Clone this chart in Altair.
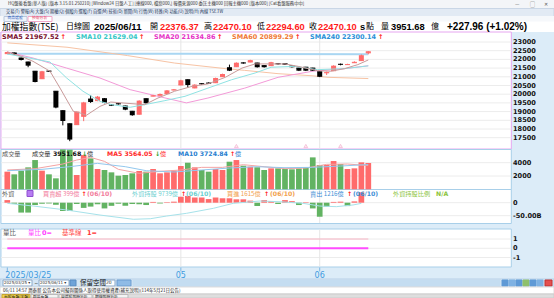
import altair as alt
import pandas as pd
import numpy as np

# ---------------- data ----------------
DATE = "2025/06/11"
MONTH_IDX = [0, 25, 45]
MONTH_LABELS = ["2025/03/25", "05", "06"]

OPEN  = [22330, 22370, 22080, 21850, 21320, 20890, 21330, 20170, 19050, 18300,
         18250, 18730, 19720, 19630, 19740, 19380, 19450, 19320, 19020, 18850,
         19740, 19890, 19940, 20030, 20240, 20530, 20830, 20360, 20600, 20640,
         20660, 21010, 21520, 21580, 21800, 21850, 21790, 21640, 21640, 21750,
         21750, 21620, 21500, 21550, 21500, 21290, 21230, 21350, 21720, 21700,
         21810, 21930, 22376.37]
HIGH  = [22440, 22400, 22100, 21870, 21330, 21340, 21360, 20180, 19080, 18320,
         19000, 19560, 19950, 19900, 19780, 19420, 19490, 19340, 19040, 19650,
         19760, 19960, 20040, 20240, 20300, 20830, 20850, 20570, 20640, 20680,
         20950, 21180, 21700, 21830, 21840, 21980, 21810, 21660, 21860, 21790,
         21770, 21640, 21520, 21570, 21520, 21310, 21300, 21660, 21760, 21750,
         21890, 22280, 22470.10]
LOW   = [22310, 22270, 21940, 21550, 20680, 20870, 21280, 19190, 18210, 17300,
         18230, 18450, 19500, 19600, 19480, 19320, 19400, 19080, 18760, 18830,
         19450, 19870, 19920, 20010, 20220, 20510, 20370, 20340, 20550, 20590,
         20640, 20990, 21330, 21560, 21750, 21830, 21530, 21530, 21620, 21700,
         21680, 21530, 21330, 21330, 21330, 20980, 21100, 21330, 21660, 21680,
         21790, 21910, 22294.60]
CLOSE = [22420, 22300, 21970, 21640, 20700, 21320, 21310, 19232, 18460, 17392,
         19000, 19529, 19550, 19860, 19510, 19350, 19430, 19110, 18790, 19630,
         19480, 19930, 20010, 20220, 20270, 20800, 20530, 20550, 20580, 20620,
         20930, 21160, 21350, 21810, 21780, 21960, 21550, 21550, 21840, 21730,
         21700, 21550, 21350, 21350, 21350, 21000, 21270, 21640, 21700, 21720,
         21860, 22242.14, 22470.10]

SMA5_X = [0, 2, 3.7, 6.15, 7.6, 9.5, 10.5, 11.4, 13.35, 14.9, 16.8, 19.8, 21.7, 24.1,
          26.6, 28.9, 31.4, 33.8, 35.7, 37.1, 40, 41.9, 44.7, 46.6, 48.6, 50.5, 52]
SMA5_V = [22430, 22180, 21890, 21320, 20350, 19020, 18920, 18790, 19300, 19550, 19490,
          19400, 19780, 20170, 20450, 20590, 20970, 21500, 21740, 21740, 21740, 21600,
          21350, 21320, 21470, 21700, 21967.52]
SMA10_X = [0, 3.7, 6.15, 8.55, 10.9, 13.35, 15, 17.7, 19.8, 22.7, 25.6, 28.9, 32.3,
           35.7, 38, 41.4, 44.7, 48.6, 52]
SMA10_V = [22310, 22040, 21850, 20930, 20170, 19590, 19400, 19250, 19400, 19630, 19880,
           20350, 20830, 21220, 21550, 21600, 21410, 21470, 21629.04]
SMA20_X = [0, 3.7, 8.55, 13.35, 17.7, 21.7, 25.8, 28.9, 34.2, 39, 44, 48.6, 52]
SMA20_V = [22430, 22080, 21500, 20930, 20260, 19880, 19500, 19780, 20350, 20970, 21320,
           21470, 21634.86]
SMA60_X = [0, 8.6, 17.3, 24.1, 31.4, 34.2, 39, 43.9, 46.2, 52]
SMA60_V = [22950, 22700, 22220, 21790, 21470, 21370, 21180, 21060, 20970, 20899.29]
SMA240_X = [0, 26, 52]
SMA240_V = [22330, 22320, 22300.14]

VOLUME = [2650, 2250, 2800, 3300, 4400, 2800, 2250, 1650, 6000, 5950,
          2150, 5150, 4650, 3050, 2900, 2550, 2050, 2150, 2400, 2750,
          2650, 3050, 2400, 2550, 2800, 3500, 4000, 3300, 2900, 2650,
          3050, 2900, 4150, 4400, 3550, 3400, 3300, 2900, 3150, 3150,
          3050, 3000, 3150, 3300, 4800, 3650, 3650, 4250, 3800, 3050,
          3150, 4050, 3951.68]
VMA5_X = [0, 4, 8, 10, 12, 14, 16, 19, 22, 25, 28, 31, 34, 37, 40, 43, 46, 49, 52]
VMA5_V = [2900, 3100, 3800, 4400, 4800, 4200, 3000, 2400, 2700, 2900, 3300, 3300, 3700,
          3400, 3100, 3200, 3750, 3800, 3564.05]
VMA10_X = [0, 5, 9, 13, 17, 20, 24, 28, 32, 36, 40, 44, 48, 52]
VMA10_V = [2800, 3000, 3400, 3900, 3400, 2800, 2600, 2900, 3200, 3400, 3250, 3300, 3500,
           3724.84]

FOREIGN_NET = [10, -4, -38, -38, -9, -4, -3, -8, -32, -32,
               -5, -20, -15, -6, -22, -12, -4, -12, -5, -6,
               -9, 3, -3, 2, 4, 23, 26, 20, 20, 14,
               20, 17, 17, 13, 13, 8, -13, 10, 6, -5,
               10, 6, -9, 2, -22, -54, -15, 3, 4, -13,
               5, 39.9]
HOLD_X = [0, 3.75, 8.55, 13.35, 18.15, 20.6, 22.95, 25.8, 29.7, 32.55, 36.4, 39.3,
          42.6, 45, 47.4, 49.8, 51]
HOLD_V = [9740, 9440, 9000, 8440, 7970, 8030, 8330, 8630, 9190, 9740, 10000, 9920,
          9740, 9440, 9370, 9560, 9739]
FOREIGN_BUY = 1615
FOREIGN_SELL = 1216
FOREIGN_DATE = "06/10"

RATIO_X = [0, 52]
RATIO_V = [0, 0]
BASE_V = [1, 1]

EVENT_IDX = [33, 43, 48]

PRICE_TICKS = [17500, 18000, 18500, 19000, 19500, 20000, 20500, 21000, 21500, 22000, 22500, 23000]
VOL_TICKS = [2000, 4000]
FOR_TICKS = [0, -50]
FOR_LABELS = ["0", "-50.00B"]
RATIO_TICKS = [1, 0, -1]

# ---------------- layout / style ----------------
RED = "#ff6b6b"
BRIGHT_RED = "#ff1a1a"
GREEN = "#62b362"
CJK = "Noto Sans CJK TC"
SANS = "DejaVu Sans"
N = len(CLOSE)

XS = alt.Scale(domain=[0, N - 1], range=[7.3, 368.3], nice=False, zero=False)
X_L, X_R = -0.91, 72.6


def ys(dom, rng):
    return alt.Scale(domain=dom, range=rng, nice=False, zero=False)


def inv(dom, rng, px):
    return dom[0] + (px - rng[0]) * (dom[1] - dom[0]) / (rng[1] - rng[0])


P = ([17000, 23000], [146.4, 42.0])
V = ([0, 4000], [189.3, 162.7])
F = ([-50, 0], [215.7, 202.7])
HS = ([8000, 10000], [219.0, 201.0])
R = ([-1, 1], [257.5, 239.0])

layers = []


def px_rects(rows):
    df = pd.DataFrame(rows, columns=["x", "x2", "y", "y2", "f", "s"])
    return alt.Chart(df).mark_rect(strokeWidth=1).encode(
        x=alt.X("x:Q", scale=None), x2="x2:Q",
        y=alt.Y("y:Q", scale=None), y2="y2:Q",
        fill=alt.Fill("f:N", scale=None), stroke=alt.Stroke("s:N", scale=None))


def px_texts(rows, font, weight="normal"):
    df = pd.DataFrame(rows, columns=["x", "y", "t", "c", "s"])
    return alt.Chart(df).mark_text(font=font, fontWeight=weight, align="left",
                                   baseline="middle").encode(
        x=alt.X("x:Q", scale=None), y=alt.Y("y:Q", scale=None), text="t:N",
        color=alt.Color("c:N", scale=None), size=alt.Size("s:Q", scale=None))


def frame(sc, top_px, bot_px, stroke):
    dom, rng = sc
    df = pd.DataFrame({"x": [X_L], "x2": [X_R], "y": [inv(dom, rng, top_px)],
                       "y2": [inv(dom, rng, bot_px)]})
    return alt.Chart(df).mark_rect(fill="white", stroke=stroke, strokeWidth=1).encode(
        x=alt.X("x:Q", scale=XS, axis=None), x2="x2:Q",
        y=alt.Y("y:Q", scale=ys(*sc), axis=None), y2="y2:Q")


def hgrid(sc, ticks, color="#ececec"):
    df = pd.DataFrame({"v": ticks, "x": X_L, "x2": X_R})
    return alt.Chart(df).mark_rule(color=color, strokeWidth=1).encode(
        x=alt.X("x:Q", scale=XS, axis=None), x2="x2:Q",
        y=alt.Y("v:Q", scale=ys(*sc), axis=None))


def vgrid(sc, top_px, bot_px):
    dom, rng = sc
    df = pd.DataFrame({"i": MONTH_IDX[1:], "a": inv(dom, rng, top_px), "b": inv(dom, rng, bot_px)})
    return alt.Chart(df).mark_rule(color="#e6e6e6", strokeWidth=1).encode(
        x=alt.X("i:Q", scale=XS, axis=None),
        y=alt.Y("a:Q", scale=ys(*sc), axis=None), y2="b:Q")


def line(xs, vs, sc, color, width=1.0):
    df = pd.DataFrame({"x": xs, "v": vs})
    return alt.Chart(df).mark_line(color=color, strokeWidth=width).encode(
        x=alt.X("x:Q", scale=XS, axis=None), y=alt.Y("v:Q", scale=ys(*sc), axis=None))


def axis_labels(sc, ticks, labels):
    df = pd.DataFrame({"v": ticks, "t": labels})
    return alt.Chart(df).mark_text(font=SANS, fontWeight="bold", fontSize=6.6, align="left",
                                   baseline="middle", color="#111111").encode(
        x=alt.value(513), y=alt.Y("v:Q", scale=ys(*sc), axis=None), text="t:N")


# ---------------- window chrome ----------------
layers.append(px_rects([
    (0, 554, 0, 8.5, "#f3f5f8", "#f3f5f8"),
    (0, 554, 8.5, 16.5, "#e2eaf4", "#c9d6e6"),
    (0, 554, 16.5, 22, "#f6f8fb", "#f6f8fb"),
    (0, 554, 22, 31.5, "#ffffff", "#ffffff"),
    (4, 27, 16.5, 21.5, "#eef3fa", "#b8c8dc"),
    (28, 52, 16.5, 21.5, "#ffffff", "#f0a8c8"),
    (0, 554, 279, 287, "#d4e6f5", "#b8d0e8"),
    (3, 32, 280, 286, "#ffffff", "#8aa8c8"),
    (39, 69, 280, 286, "#ffffff", "#8aa8c8"),
    (70, 76, 280, 286, "#6fa3d8", "#5a8cc0"),
    (104, 115, 280, 286, "#ffffff", "#8aa8c8"),
    (117, 131, 280, 286, "#8fbbe6", "#6a9cd0"),
    (133, 500, 280.5, 285.5, "#c4ddf1", "#c4ddf1"),
    (502, 508, 280, 286, "#5f9ad6", "#5f9ad6"),
    (509, 515, 280, 286, "#7fb2e3", "#7fb2e3"),
    (516, 522, 280, 286, "#5f9ad6", "#5f9ad6"),
    (523, 529, 280, 286, "#8ec06c", "#8ec06c"),
    (530, 536, 280, 286, "#5f9ad6", "#5f9ad6"),
    (537, 543, 280, 286, "#7fb2e3", "#7fb2e3"),
    (545, 552, 280, 286, "#e45050", "#c03030"),
    (0, 554, 287, 294, "#ffffff", "#dddddd"),
    (0, 554, 294, 298, "#dedede", "#cccccc"),
    (2, 30, 294.5, 298, "#f2d24a", "#c8a830"),
    (31, 58, 294.5, 298, "#f4f4f4", "#bbbbbb"),
    (59, 92, 294.5, 298, "#f4f4f4", "#bbbbbb"),
    (93, 128, 294.5, 298, "#f4f4f4", "#bbbbbb"),
]))
layers.append(px_texts([
    (8, 4, "HQ盤後看盤(華人版) [版本 3.15.01.250210] [Window24 日盤人工] [連線000, 檔案000,] 報價來源000 委託主機000 回報主機000 [版本000]  [Cat看盤服務中中]", "#333333", 4.3),
    (515, 4, "—", "#555555", 5),
    (530, 4, "▢", "#555555", 5),
    (544, 4, "✕", "#555555", 5),
    (6, 12, "交易(T)   警報(A)   大盤(S)   期權(Q)   個股(I)   選股(F)   自選(M)   技術(D)   新聞(N)   行情(W)   特殊(R)   功能(U)   說明(H)   內線   TSE.TW", "#223355", 4.2),
    (7.5, 18.0, "商品選股", "#2a5cc0", 3.8),
    (32, 18.0, "技術分析", "#e03a5a", 3.8),
    (80, 283, "保留空間", "#111111", 6.5),
    (3, 291, "06/11 14:57      潤泰新 公告本公司擬與關係人取得使用權資產(補充說明)(114年5月21日公告)", "#222222", 4.5),
    (4, 296.5, "台股看盤(全盤)", "#222222", 3.8),
    (33, 296.5, "群益看盤", "#222222", 3.8),
    (61, 296.5, "自選股即時分析", "#222222", 3.8),
    (95, 296.5, "期權即時分析", "#222222", 3.8),
], CJK))
layers.append(px_texts([
    (4, 283, "2025/03/25 ▾", "#333333", 4),
    (34, 283, "~", "#333333", 5),
    (40, 283, "2025/06/11 ▾", "#333333", 4),
    (106, 283, "20", "#333333", 4.5),
], SANS))

# ---------------- panel frames & grids ----------------
layers += [
    frame(P, 32, 149, "#e6a6f0"),
    frame(V, 149.5, 189.5, "#a8cfe9"),
    frame(F, 189.5, 223.5, "#a8cfe9"),
    frame(R, 229, 267, "#a8cfe9"),
    hgrid(P, PRICE_TICKS), hgrid(V, VOL_TICKS), hgrid(F, FOR_TICKS), hgrid(R, RATIO_TICKS),
    vgrid(P, 32.5, 148.5), vgrid(V, 150, 189), vgrid(F, 190, 223), vgrid(R, 229.5, 266.5),
]

# ---------------- price candles ----------------
cdf = pd.DataFrame({"i": range(N), "o": OPEN, "h": HIGH, "l": LOW, "c": CLOSE})
cdf["col"] = np.where(cdf["c"] >= cdf["o"], RED, "#000000")
cdf["il"] = cdf["i"] - 0.36
cdf["ir"] = cdf["i"] + 0.36
cb = alt.Chart(cdf)
layers += [
    line(SMA240_X, SMA240_V, P, "#a9d6f2", 2),
    line(SMA60_X, SMA60_V, P, "#f7c3a4", 1),
    line(SMA20_X, SMA20_V, P, "#f39ad8", 1),
    cb.mark_rule(strokeWidth=1).encode(
        x=alt.X("i:Q", scale=XS, axis=None), y=alt.Y("l:Q", scale=ys(*P), axis=None),
        y2="h:Q", color=alt.Color("col:N", scale=None)),
    cb.mark_rect().encode(
        x=alt.X("il:Q", scale=XS, axis=None), x2="ir:Q",
        y=alt.Y("o:Q", scale=ys(*P), axis=None), y2="c:Q", color=alt.Color("col:N", scale=None)),
    cb.mark_rule(strokeWidth=1).encode(
        x=alt.X("il:Q", scale=XS, axis=None), x2="ir:Q",
        y=alt.Y("o:Q", scale=ys(*P), axis=None), color=alt.Color("col:N", scale=None)),
    line(SMA10_X, SMA10_V, P, "#8fe3e3", 1),
    line(SMA5_X, SMA5_V, P, "#c99a9a", 1),
]
edf = pd.DataFrame({"i": EVENT_IDX, "v": inv(P[0], P[1], 146)})
layers.append(alt.Chart(edf).mark_point(shape="triangle-up", size=14, filled=True,
                                        fill="#fde6f0", stroke="#f09ac0", strokeWidth=0.8).encode(
    x=alt.X("i:Q", scale=XS, axis=None), y=alt.Y("v:Q", scale=ys(*P), axis=None)))

# ---------------- volume ----------------
vdf = pd.DataFrame({"i": range(N), "v": VOLUME, "z": 0})
vdf["col"] = np.where(cdf["c"] >= cdf["o"], RED, GREEN)
vdf["il"] = vdf["i"] - 0.41
vdf["ir"] = vdf["i"] + 0.41
layers += [
    alt.Chart(vdf).mark_rect().encode(
        x=alt.X("il:Q", scale=XS, axis=None), x2="ir:Q",
        y=alt.Y("z:Q", scale=ys(*V), axis=None), y2="v:Q", color=alt.Color("col:N", scale=None)),
    line(VMA5_X, VMA5_V, V, "#f4a3a3", 1),
    line(VMA10_X, VMA10_V, V, "#93c8ee", 1),
]

# ---------------- foreign investors ----------------
fdf = pd.DataFrame({"i": range(len(FOREIGN_NET)), "f": FOREIGN_NET, "z": 0})
fdf["col"] = np.where(fdf["f"] >= 0, RED, GREEN)
fdf["il"] = fdf["i"] - 0.41
fdf["ir"] = fdf["i"] + 0.41
layers += [
    alt.Chart(fdf).mark_rect().encode(
        x=alt.X("il:Q", scale=XS, axis=None), x2="ir:Q",
        y=alt.Y("z:Q", scale=ys(*F), axis=None), y2="f:Q", color=alt.Color("col:N", scale=None)),
    line(HOLD_X, HOLD_V, HS, "#a6e2ea", 1),
]

# ---------------- ratio ----------------
layers += [
    line(RATIO_X, BASE_V, R, "#f8b4c4", 1),
    line(RATIO_X, RATIO_V, R, "#ff4cff", 2),
]

# ---------------- axis labels ----------------
layers += [
    axis_labels(P, PRICE_TICKS, [str(t) for t in PRICE_TICKS]),
    axis_labels(V, VOL_TICKS, [str(t) for t in VOL_TICKS]),
    axis_labels(F, FOR_TICKS, FOR_LABELS),
    axis_labels(R, RATIO_TICKS, [str(t) for t in RATIO_TICKS]),
]
mdf = pd.DataFrame({"i": MONTH_IDX, "t": MONTH_LABELS})
layers += [
    alt.Chart(mdf).mark_rule(color="#7db6e3", strokeWidth=1).encode(
        x=alt.X("i:Q", scale=XS, axis=None), y=alt.value(267.5), y2=alt.value(271.5)),
    alt.Chart(mdf.iloc[:1]).mark_text(font=SANS, fontSize=8, align="left", baseline="middle",
                                      color="#3d9be0", dx=-2).encode(
        x=alt.X("i:Q", scale=XS, axis=None), y=alt.value(275.5), text="t:N"),
    alt.Chart(mdf.iloc[1:]).mark_text(font=SANS, fontSize=8, align="center", baseline="middle",
                                      color="#3d9be0").encode(
        x=alt.X("i:Q", scale=XS, axis=None), y=alt.value(275.5), text="t:N"),
]

# ---------------- header & legends ----------------
chg = CLOSE[-1] - CLOSE[-2]
pct = chg / CLOSE[-2] * 100
HY = 27.0
layers.append(px_texts([
    (2, HY, "加權指數(TSE)", "#000000", 8.8),
    (66, HY, "日線圖", "#000000", 8),
    (150, HY, "開", "#000000", 8),
    (204, HY, "高", "#000000", 8),
    (257, HY, "低", "#000000", 8),
    (309, HY, "收", "#000000", 8),
    (366, HY, "點", "#000000", 8),
    (381, HY, "量", "#000000", 8),
    (431, HY, "億", "#000000", 8),
], CJK))
layers.append(px_texts([
    (94, HY, DATE, "#000000", 9.6),
    (160, HY, f"{OPEN[-1]:.2f}", BRIGHT_RED, 9.3),
    (213, HY, f"{HIGH[-1]:.2f}", BRIGHT_RED, 9.3),
    (266, HY, f"{LOW[-1]:.2f}", BRIGHT_RED, 9.3),
    (318, HY, f"{CLOSE[-1]:.2f}", BRIGHT_RED, 9.3),
    (360, HY, "s", "#000000", 9.3),
    (391, HY, f"{VOLUME[-1]:.2f}", "#000000", 9.3),
    (447, HY, f"{chg:+.2f} ({pct:+.2f}%)", "#000000", 10),
], "Liberation Sans", "bold"))

LY = 36.8
layers.append(px_texts([
    (2, LY, f"SMA5 {SMA5_V[-1]:.2f}", "#7a1030", 6.5),
    (60.5, LY, "↑", BRIGHT_RED, 6.5),
    (76, LY, f"SMA10 {SMA10_V[-1]:.2f}", "#36c6c6", 6.5),
    (139, LY, "↑", BRIGHT_RED, 6.5),
    (154, LY, f"SMA20 {SMA20_V[-1]:.2f}", "#e632c6", 6.5),
    (217, LY, "↑", BRIGHT_RED, 6.5),
    (232, LY, f"SMA60 {SMA60_V[-1]:.2f}", "#f07a36", 6.5),
    (295, LY, "↑", BRIGHT_RED, 6.5),
    (310, LY, f"SMA240 {SMA240_V[-1]:.2f}", "#2a90d8", 6.5),
    (378, LY, "↑", BRIGHT_RED, 6.5),
    (53, 154, f"{VOLUME[-1]:.2f}", "#111111", 6.2),
    (82, 154, "↓", "#1c9c1c", 6.2),
    (107, 154, f"MA5 {VMA5_V[-1]:.2f}", "#ff2a2a", 6.2),
    (155, 154, "↓", "#1c9c1c", 6.2),
    (178, 154, f"MA10 {VMA10_V[-1]:.2f}", "#2a80d0", 6.2),
    (230, 154, "↑", BRIGHT_RED, 6.2),
    (81.5, 193.5, "↑", BRIGHT_RED, 6.2),
    (87, 193.5, f"({FOREIGN_DATE})", "#f27c9c", 6.2),
    (181, 193.5, "↑", BRIGHT_RED, 6.2),
    (186, 193.5, f"({FOREIGN_DATE})", "#6dd0d0", 6.2),
    (264, 193.5, "↑", BRIGHT_RED, 6.2),
    (270, 193.5, f"({FOREIGN_DATE})", "#f2a250", 6.2),
    (347, 193.5, "↑", BRIGHT_RED, 6.2),
    (353, 193.5, f"({FOREIGN_DATE})", "#3f8fd6", 6.2),
    (436, 193.5, "N/A", "#8cc43c", 6.2),
    (42, 233, "0=", "#ff3cff", 6.5),
    (87, 233, "1=", "#ff3030", 6.5),
], SANS, "bold"))
layers.append(px_rects([(27, 33, 190.5, 196.5, "#b77cf2", "#9050d0")]))
layers.append(px_texts([
    (2, 154, "成交量", "#555555", 6.2),
    (32, 154, "成交量", "#333333", 6.2),
    (87, 154, "億", "#333333", 6.2),
    (160, 154, "億", "#ff2a2a", 6.2),
    (235, 154, "億", "#2a80d0", 6.2),
    (2, 193.5, "外資", "#555555", 6.2),
    (43, 193.5, f"買賣超 {FOREIGN_NET[-1] * 10:.0f}億", "#f27c9c", 6.2),
    (132, 193.5, f"外資持股 {HOLD_V[-1]}億", "#6dd0d0", 6.2),
    (227, 193.5, f"買進 {FOREIGN_BUY}億", "#f2a250", 6.2),
    (310, 193.5, f"賣出 {FOREIGN_SELL}億", "#3f8fd6", 6.2),
    (393, 193.5, "外資持股比例", "#8cc43c", 6.2),
    (3, 233, "量比", "#555555", 6.5),
    (28, 233, "量比", "#ff3cff", 6.5),
    (62, 233, "基準線", "#ff4a4a", 6.5),
], CJK))

chart = alt.layer(*layers).resolve_scale(y="independent").properties(
    width=554, height=298, padding=0, background="#dcecf8",
    autosize=alt.AutoSizeParams(type="none"),
).configure_view(stroke=None)

chart.save("out.html", embed_options={"renderer": "svg", "actions": False})
